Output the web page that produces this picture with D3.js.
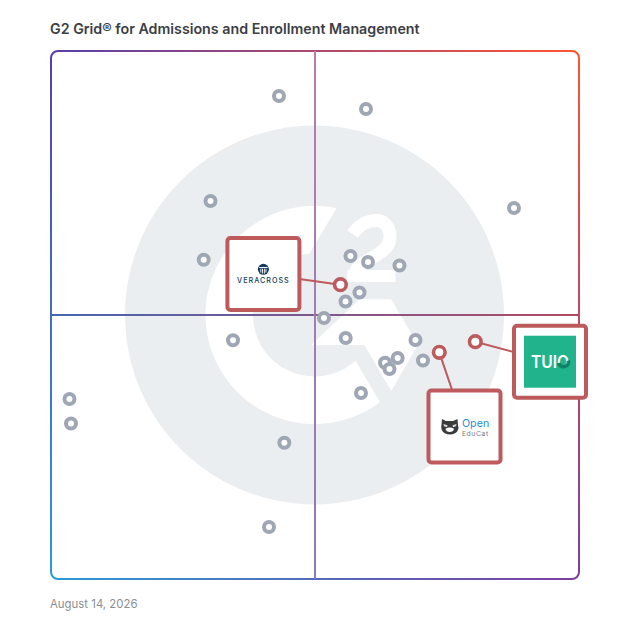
<!DOCTYPE html>
<html>
<head>
<meta charset="utf-8">
<script src="https://cdn.jsdelivr.net/npm/d3@7/dist/d3.min.js"></script>
<style>
html,body{margin:0;padding:0;background:#fff;}
svg{display:block;}
text{font-family:Inter,"Noto Sans",sans-serif;}
</style>
</head>
<body>
<div id="chart"></div>
<script>
// ---- data (satisfaction %, market presence %) ----
const otherX = [43.18,59.66,87.69,30.21,28.92,56.72,60.04,66.0,58.43,55.78,51.70,55.81,34.47,69.03,63.26,65.66,64.11,70.45,58.71,44.19,41.29,3.50,3.79];
const otherY = [91.48,89.02,70.27,71.59,60.47,61.17,60.04,59.38,54.26,52.56,49.43,45.64,45.21,45.27,40.97,41.86,39.77,41.38,35.23,25.81,9.85,34.09,29.45];
const featuredNames = ["Veracross","OpenEduCat","TUIO"];
const featuredX = [54.81,73.54,80.36];
const featuredY = [55.74,42.93,44.94];
const titleText = "G2 Grid® for Admissions and Enrollment Management";
const dateText = "August 14, 2026";

// ---- layout ----
const W = 628, H = 628;
const x = d3.scaleLinear().domain([0,100]).range([51,579]);
const y = d3.scaleLinear().domain([0,100]).range([579,51]);
const cardOffset = {Veracross:[-77,-10.7], OpenEduCat:[25.2,74.2], TUIO:[74.7,20]};
const cardSize = 72, RED = "#bd5a5c", GREY = "#9fa6b4", LOGO_BG = "#ebeef1";

const svg = d3.select("#chart").append("svg").attr("width",W).attr("height",H);
const defs = svg.append("defs");

svg.append("text").attr("x",50).attr("y",34).attr("font-size",14.25).attr("font-weight",600)
   .attr("fill","#3b3e44").text(titleText);
svg.append("text").attr("x",50).attr("y",608).attr("font-size",11.4)
   .attr("fill","#8b8e93").text(dateText);

// ---- G2 watermark ----
const cx = x(50), cy = y(50);
const rad = a => a*Math.PI/180;
const mark = svg.append("g").attr("transform",`translate(${cx-0.5},${cy})`);
mark.append("circle").attr("r",189.5).attr("fill",LOGO_BG);
const g = d3.path();
g.moveTo(109*Math.cos(rad(-78.3)),109*Math.sin(rad(-78.3)));
g.arc(0,0,109,rad(-78.3),rad(53.1-360),true);
g.arc(0,0,61.5,rad(48.2),rad(265),false);
g.closePath();
mark.append("path").attr("d",g.toString()).attr("fill","#fff");
const chevron = [[45,-15.7],[76.7,-15.7],[103.3,30],[76.7,76],[50,30],[-3.3,30]];
mark.append("path").attr("d",d3.line()(chevron)+"Z").attr("fill","#fff");
const two = d3.path();
two.moveTo(38,-81);
two.bezierCurveTo(46,-92,56,-95,63,-94.5);
two.bezierCurveTo(72,-93.5,76,-85,75.5,-77);
two.bezierCurveTo(75,-66,62,-60,52,-54);
two.bezierCurveTo(44,-49,39,-44,39,-36);
mark.append("path").attr("d",two.toString()).attr("fill","none").attr("stroke","#fff").attr("stroke-width",13);
mark.append("path").attr("d",d3.line()([[33,-45],[81,-45],[81,-33],[33,-33]])+"Z").attr("fill","#fff");

// ---- gradient frame + cross ----
const TL="#5a3fa9", TR="#ff5531", BL="#2b9ad8", BR="#7e3e9e";
function grad(id,x1,y1,x2,y2,c1,c2){
  const lg = defs.append("linearGradient").attr("id",id).attr("gradientUnits","userSpaceOnUse")
    .attr("x1",x1).attr("y1",y1).attr("x2",x2).attr("y2",y2);
  lg.append("stop").attr("offset",0).attr("stop-color",c1);
  lg.append("stop").attr("offset",1).attr("stop-color",c2);
  return `url(#${id})`;
}
const [x0,x1]=x.range(), [y1,y0]=y.range(), R=7;
const frame = svg.append("g").attr("fill","none").attr("stroke-width",2);
frame.append("path").attr("d",`M${x0},${y0+R}A${R},${R} 0 0 1 ${x0+R},${y0}H${x1-R}`)
  .attr("stroke",grad("gT",x0,0,x1,0,TL,TR));
frame.append("path").attr("d",`M${x1-R},${y0}A${R},${R} 0 0 1 ${x1},${y0+R}V${y1-R}`)
  .attr("stroke",grad("gR",0,y0,0,y1,TR,BR));
frame.append("path").attr("d",`M${x1},${y1-R}A${R},${R} 0 0 1 ${x1-R},${y1}H${x0+R}`)
  .attr("stroke",grad("gB",x0,0,x1,0,BL,BR));
frame.append("path").attr("d",`M${x0+R},${y1}A${R},${R} 0 0 1 ${x0},${y1-R}V${y0+R}`)
  .attr("stroke",grad("gL",0,y0,0,y1,TL,BL));
frame.append("line").attr("x1",x0).attr("x2",x1).attr("y1",cy).attr("y2",cy+0.001).attr("stroke-width",2)
  .attr("stroke",grad("gH",x0,0,x1,0,"#4566b2","#b44a64"));
frame.append("line").attr("y1",y0).attr("y2",y1).attr("x1",cx).attr("x2",cx+0.001).attr("stroke-width",2)
  .attr("stroke",grad("gV",0,y0,0,y1,"#b87fa6","#8b7abf"));

// ---- other products ----
svg.append("g").selectAll("circle").data(otherX).join("circle")
  .attr("cx",d=>x(d)).attr("cy",(d,i)=>y(otherY[i])).attr("r",5)
  .attr("fill","#fff").attr("stroke",GREY).attr("stroke-width",4);

// ---- featured: leader, dot, card ----
const featured = featuredNames.map((name,i)=>({name,px:x(featuredX[i]),py:y(featuredY[i]),
  dx:cardOffset[name][0],dy:cardOffset[name][1]}));
const leaders = svg.append("g");
leaders.selectAll("line").data(featured).join("line")
  .attr("x1",d=>d.px).attr("y1",d=>d.py).attr("x2",d=>d.px+d.dx).attr("y2",d=>d.py+d.dy)
  .attr("stroke",RED).attr("stroke-width",2);
svg.append("g").selectAll("circle").data(featured).join("circle")
  .attr("cx",d=>d.px).attr("cy",d=>d.py).attr("r",5.8)
  .attr("fill","#fff").attr("stroke",RED).attr("stroke-width",3.6);
const cards = svg.append("g").selectAll("g").data(featured).join("g")
  .attr("transform",d=>`translate(${d.px+d.dx},${d.py+d.dy})`);
cards.append("rect").attr("x",-cardSize/2).attr("y",-cardSize/2).attr("width",cardSize).attr("height",cardSize)
  .attr("rx",3).attr("fill","#fff").attr("stroke",RED).attr("stroke-width",4);

// Veracross logo
const v = cards.filter(d=>d.name==="Veracross");
const NAVY="#143a5e";
v.append("circle").attr("cy",-4.7).attr("r",5.5).attr("fill",NAVY);
v.append("path").attr("d","M-4.2,-6.9H4.2V-6.1H-4.2ZM-3,-5.3H-2.1V-1.6H-3ZM-1.4,-5.3H-.5V-.4H-1.4ZM.5,-5.3H1.4V-.4H.5ZM2.1,-5.3H3V-1.6H2.1Z").attr("fill","#fff");
v.append("text").attr("y",9.3).attr("text-anchor","middle").attr("font-size",7.2).attr("font-weight",500)
  .attr("letter-spacing",1.0).attr("fill",NAVY).text("VERACROSS");

// OpenEduCat logo
const o = cards.filter(d=>d.name==="OpenEduCat");
o.append("path").attr("d","M-22.5,-7.5L-18.5,-5.5H-11.5L-7,-7.5L-6.5,-1.5C-5,3 -7,7.5 -14.5,8C-22,7.5 -24,3 -23,-1.5Z").attr("fill","#3a3b3d");
o.append("path").attr("d","M-19,2.5C-17.5,.5 -12,.5 -10.5,2.5C-11,6.5 -18.5,6.5 -19,2.5Z").attr("fill","#fff");
o.append("path").attr("d","M-21,-2.5L-17,-1.2L-17.5,.6L-20.5,-.3ZM-8,-2.5L-12,-1.2L-11.5,.6L-8.5,-.3Z").attr("fill","#d8d8d8");
o.append("text").attr("x",-2.6).attr("y",0).attr("font-size",10.6).attr("letter-spacing",.1).attr("fill","#1f8fd0").text("Open");
o.append("text").attr("x",-2.6).attr("y",9.4).attr("font-size",6.8).attr("letter-spacing",.6).attr("fill","#77797c").text("EduCat");

// TUIO logo
const t = cards.filter(d=>d.name==="TUIO");
t.append("rect").attr("x",-26).attr("y",-26).attr("width",52).attr("height",52).attr("fill","#21b38b");
t.append("text").attr("x",-19).attr("y",6).attr("font-size",17.5).attr("font-weight",600)
  .attr("textLength",38).attr("lengthAdjust","spacingAndGlyphs").attr("fill","#fff").text("TUIO");
t.append("path").attr("d",d3.arc()({innerRadius:3.2,outerRadius:6.8,startAngle:rad(75),endAngle:rad(255)}))
  .attr("transform","translate(13.5,0)").attr("fill","#0f8366");
</script>
</body>
</html>
